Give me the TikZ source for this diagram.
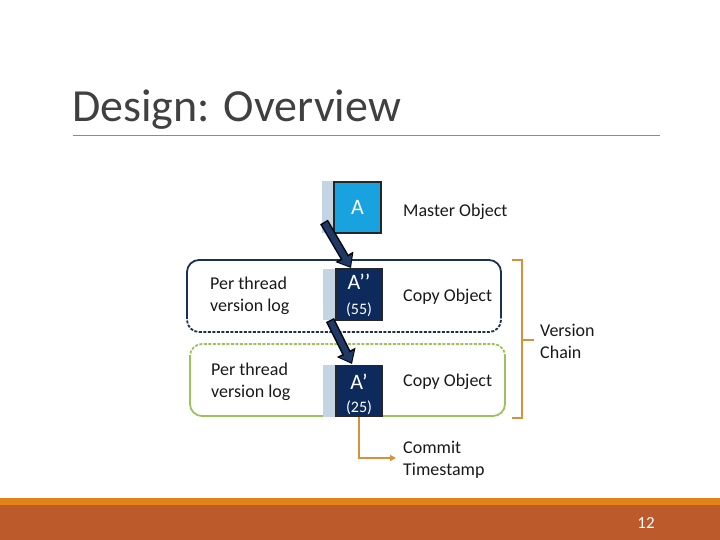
\documentclass[tikz,border=0pt]{standalone}
\usepackage{fontspec}
\setmainfont{Carlito}
\usetikzlibrary{arrows.meta}
\definecolor{titlegray}{HTML}{404040}
\definecolor{rulegray}{HTML}{8C8C8C}
\definecolor{skyA}{HTML}{18A3E0}
\definecolor{stripc}{HTML}{C3D5E3}
\definecolor{navyc}{HTML}{0D2A5C}
\definecolor{navyfill}{HTML}{1F3864}
\definecolor{logblue}{HTML}{1C2F57}
\definecolor{loggreen}{HTML}{9CC25A}
\definecolor{bracec}{HTML}{D8913A}
\definecolor{barrust}{HTML}{BC5A2C}
\definecolor{barorange}{HTML}{E2821A}
\tikzset{
  body/.style={font=\fontsize{18}{22}\selectfont, text=black!90, inner sep=0pt, align=left},
  strip/.style={fill=stripc, draw=none, inner sep=0pt},
  obj/.style={draw=black!85, line width=1.2pt, inner sep=0pt, text=white},
  fatarrowout/.style={draw=black!80!navyc, line width=9pt, -{Triangle[width=20pt,length=13pt]}},
  fatarrowin/.style={draw=navyfill, line width=6pt, shorten >=1.8pt, shorten <=1.5pt, -{Triangle[width=15pt,length=9.5pt]}},
  orangeline/.style={draw=bracec, line width=1.6pt},
}
\begin{document}
\begin{tikzpicture}[x=1pt,y=-1pt]
\useasboundingbox (0,0) rectangle (720,540);
% title
\node[anchor=base west, inner sep=0pt, font=\fontsize{46}{50}\selectfont, text=titlegray] (title) at (72,122) {Design: Overview};
\draw[rulegray, line width=1pt] (73,136) -- (660,136);
% version log boxes
\draw[logblue, line width=1.8pt, rounded corners=12pt] (187,318) -- (187,260) -- (501,260) -- (501,318);
\draw[logblue, line width=1.8pt, rounded corners=12pt, dash pattern=on 3pt off 1.5pt] (187,316) -- (187,332) -- (501,332) -- (501,316);
\draw[loggreen, line width=1.8pt, rounded corners=12pt, dash pattern=on 3pt off 1.5pt] (190,358) -- (190,344) -- (505,344) -- (505,358);
\draw[loggreen, line width=1.8pt, rounded corners=12pt] (190,356) -- (190,416) -- (505,416) -- (505,356);
% strips
\node[strip, minimum width=13pt, minimum height=52pt] (sA) at (328,207) {};
\node[strip, minimum width=14pt, minimum height=51pt] (sB) at (329.5,294.5) {};
\node[strip, minimum width=14pt, minimum height=52pt] (sC) at (329.5,391) {};
% objects
\node[obj, fill=skyA, minimum width=47pt, minimum height=51pt, font=\fontsize{22}{24}\selectfont] (A) at (357.5,207.5) {A};
\node[obj, fill=navyc, minimum width=46pt, minimum height=51pt] (A2) at (359,294.5) {};
\node[text=white, font=\fontsize{22}{24}\selectfont, inner sep=0pt, anchor=base] (A2t) at (359,289) {A’’};
\node[text=white, font=\fontsize{16}{18}\selectfont, inner sep=0pt, anchor=base] (A2n) at (359,314) {(55)};
\node[obj, fill=navyc, minimum width=46pt, minimum height=51pt] (A1) at (359,391) {};
\node[text=white, font=\fontsize{22}{24}\selectfont, inner sep=0pt, anchor=base] (A1t) at (359,389) {A’};
\node[text=white, font=\fontsize{16}{18}\selectfont, inner sep=0pt, anchor=base] (A1n) at (359,412) {(25)};
% arrows
\coordinate (a1s) at (324,222);
\coordinate (a1e) at (351,268);
\coordinate (a2s) at (330,320);
\coordinate (a2e) at (352,364);
\draw[fatarrowout] (a1s) -- (a1e);
\draw[fatarrowin] (a1s) -- (a1e);
\draw[fatarrowout] (a2s) -- (a2e);
\draw[fatarrowin] (a2s) -- (a2e);
% labels
\node[body, anchor=base west] (mo) at (403,216) {Master Object};
\node[body, anchor=base west] (co1) at (403,301) {Copy Object};
\node[body, anchor=base west] (co2) at (403,386) {Copy Object};
\node[body, anchor=west] (ptl1) at (210,296) {Per thread\\version log};
\node[body, anchor=west] (ptl2) at (211,382) {Per thread\\version log};
\node[body, anchor=west] (vc) at (540,341) {Version\\Chain};
\node[body, anchor=west] (ct) at (403,460) {Commit\\Timestamp};
% brace
\draw[orangeline] (512,260) -- (522,260) -- (522,418) -- (512,418);
\coordinate (bt) at (534,340);
\draw[orangeline] (522,340) -- (bt);
% commit connector
\coordinate (ce) at (396,458);
\draw[orangeline, -{Triangle[width=6pt,length=6pt]}] (A1.south) |- (ce);
% bottom bar
\fill[barorange] (0,498) rectangle (720,505);
\fill[barrust] (0,504.5) rectangle (720,540);
\node[text=white, font=\fontsize{17}{18}\selectfont, inner sep=0pt] (pg) at (646,523) {12};
\end{tikzpicture}
\end{document}
